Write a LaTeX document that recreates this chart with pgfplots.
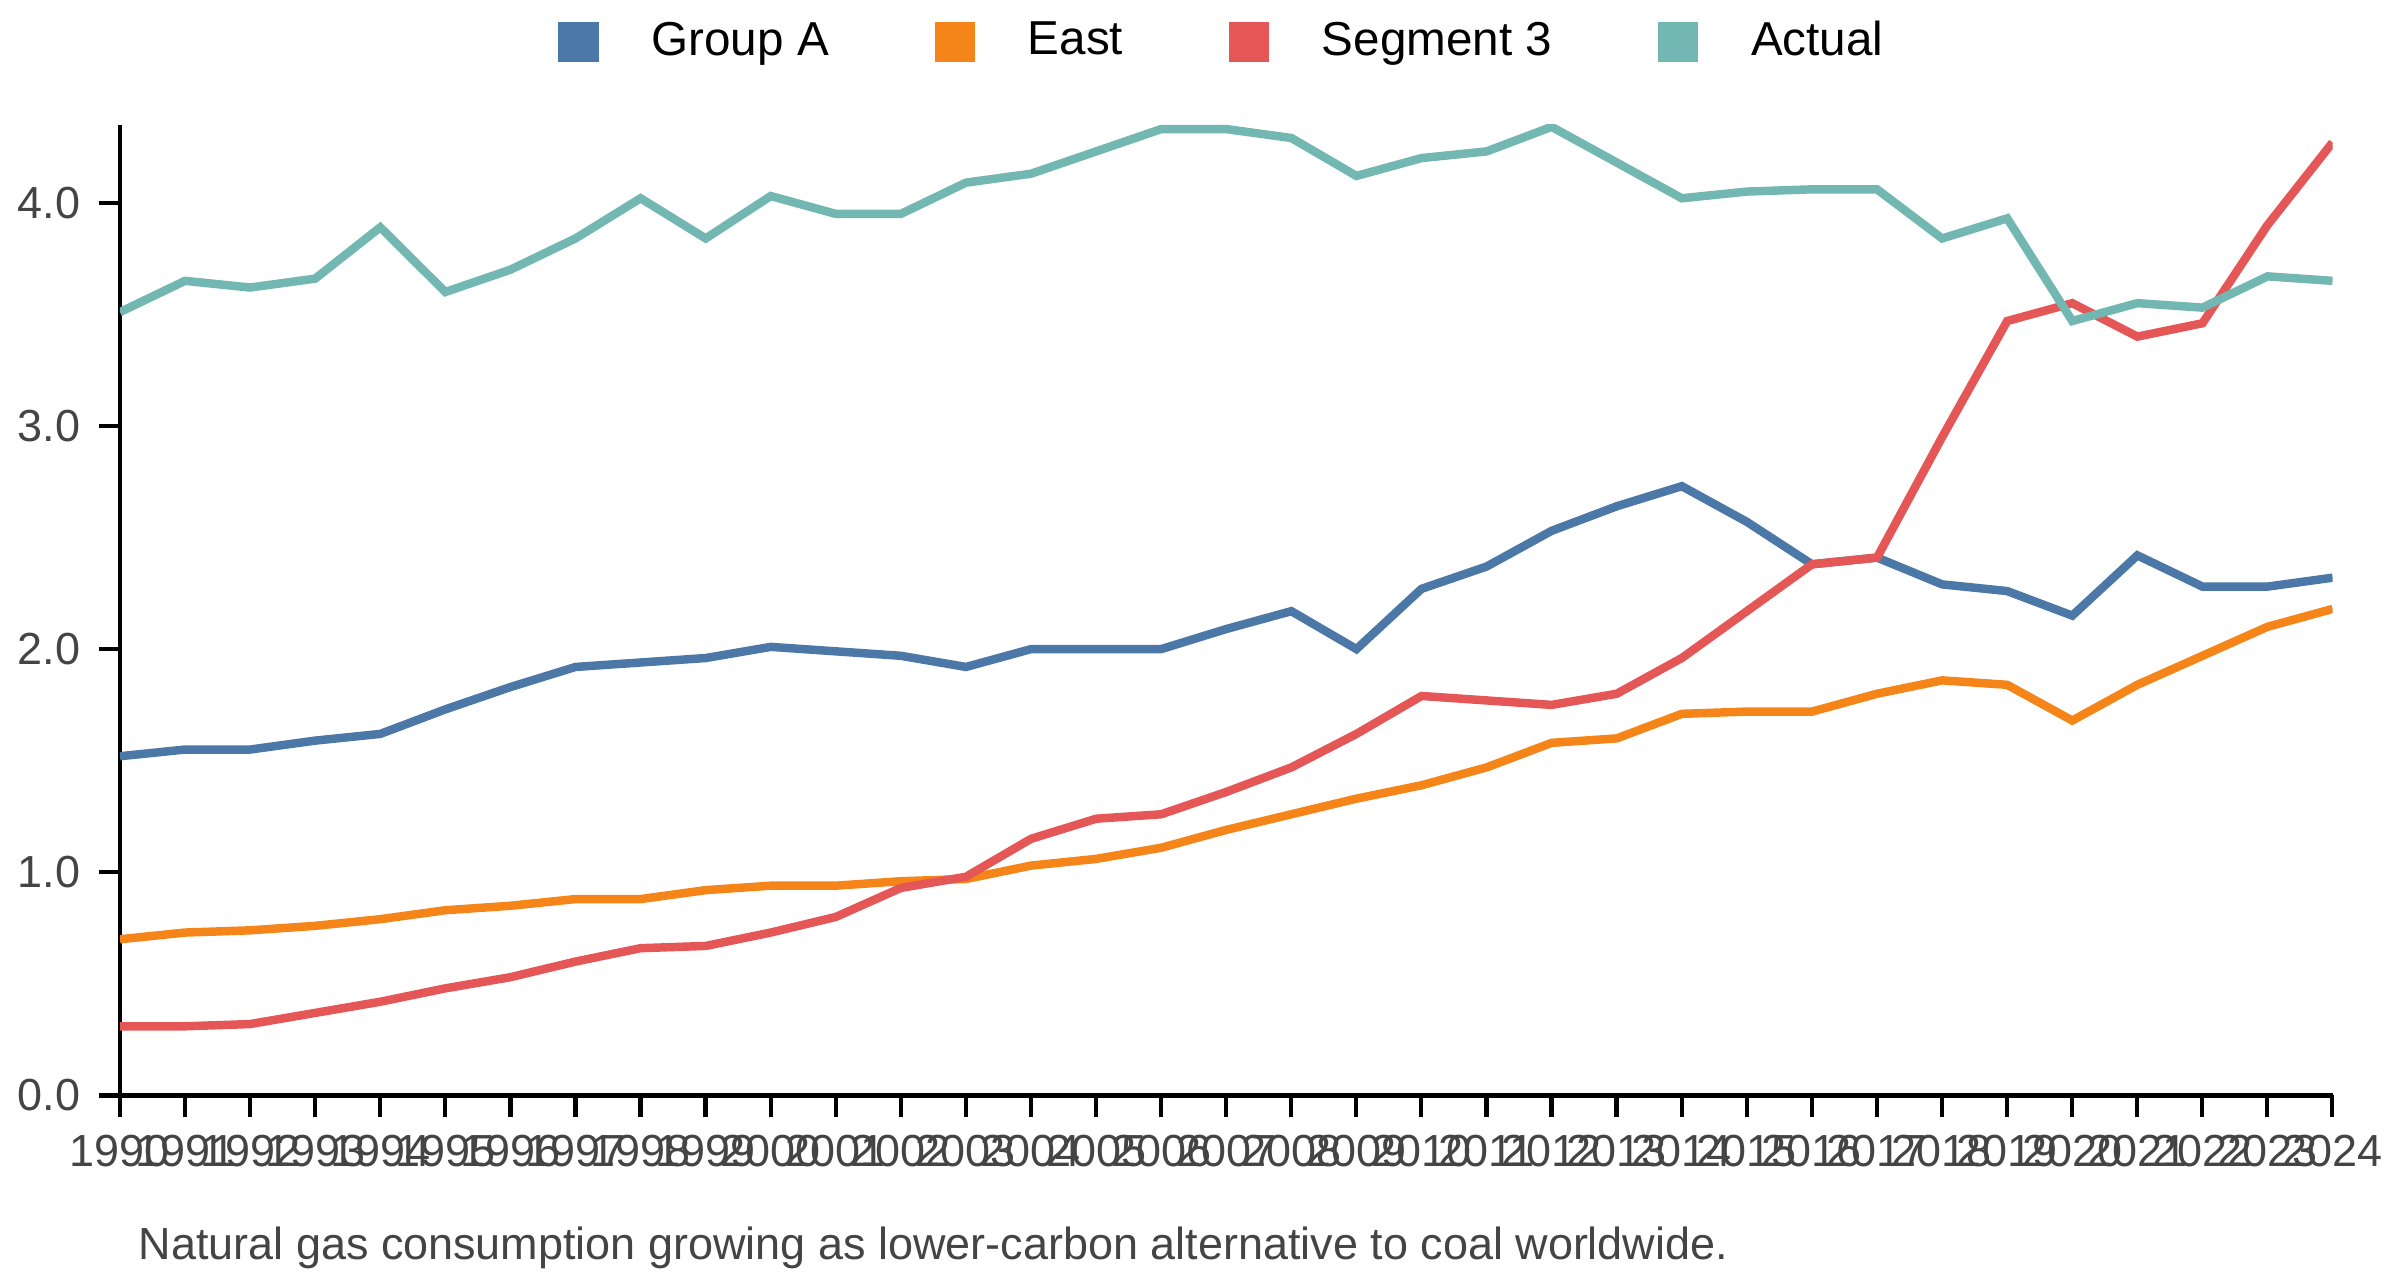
\documentclass[border=0pt]{standalone}
\usepackage{pgfplots}
\pgfplotsset{compat=1.18}
\usepackage{fontspec}
\setmainfont{Liberation Sans}
\definecolor{cA}{HTML}{4C78A8}
\definecolor{cB}{HTML}{F58518}
\definecolor{cC}{HTML}{E45756}
\definecolor{cD}{HTML}{72B7B2}
\definecolor{txt}{HTML}{444444}
\pgfplotstableread{
x a b c d
1990 1.52 0.70 0.31 3.51
1991 1.55 0.73 0.31 3.65
1992 1.55 0.74 0.32 3.62
1993 1.59 0.76 0.37 3.66
1994 1.62 0.79 0.42 3.89
1995 1.73 0.83 0.48 3.60
1996 1.83 0.85 0.53 3.70
1997 1.92 0.88 0.60 3.84
1998 1.94 0.88 0.66 4.02
1999 1.96 0.92 0.67 3.84
2000 2.01 0.94 0.73 4.03
2001 1.99 0.94 0.80 3.95
2002 1.97 0.96 0.93 3.95
2003 1.92 0.97 0.98 4.09
2004 2.00 1.03 1.15 4.13
2005 2.00 1.06 1.24 4.23
2006 2.00 1.11 1.26 4.33
2007 2.09 1.19 1.36 4.33
2008 2.17 1.26 1.47 4.29
2009 2.00 1.33 1.62 4.12
2010 2.27 1.39 1.79 4.20
2011 2.37 1.47 1.77 4.23
2012 2.53 1.58 1.75 4.34
2013 2.64 1.60 1.80 4.18
2014 2.73 1.71 1.96 4.02
2015 2.57 1.72 2.17 4.05
2016 2.38 1.72 2.38 4.06
2017 2.41 1.80 2.41 4.06
2018 2.29 1.86 2.95 3.84
2019 2.26 1.84 3.47 3.93
2020 2.15 1.68 3.55 3.47
2021 2.42 1.84 3.40 3.55
2022 2.28 1.97 3.46 3.53
2023 2.28 2.10 3.90 3.67
2024 2.32 2.18 4.27 3.65
}\data
\begin{document}
\begin{tikzpicture}
\begin{axis}[
  width=14.7cm, height=6.45cm, scale only axis,
  xmin=1990, xmax=2024, ymin=0, ymax=4.35,
  axis lines*=left, axis line style={line width=0.8pt, black},
  xtick={1990,...,2024}, ytick={0,1,2,3,4},
  xticklabels={1990,1991,1992,1993,1994,1995,1996,1997,1998,1999,2000,2001,2002,2003,2004,2005,2006,2007,2008,2009,2010,2011,2012,2013,2014,2015,2016,2017,2018,2019,2020,2021,2022,2023,2024},
  yticklabel style={/pgf/number format/.cd,fixed,fixed zerofill,precision=1},
  /pgf/number format/assume math mode=true,
  tick style={black, line width=0.8pt}, tick align=outside, major tick length=4pt,
  ticklabel style={font=\fontsize{8.5}{10}\selectfont, text=txt},
  legend style={at={(0.5,1.04)}, anchor=south, draw=none, legend columns=4,
    font=\fontsize{9}{11}\selectfont, text=black,
    /tikz/every odd column/.append style={column sep=8pt},
    /tikz/every even column/.append style={column sep=18pt}},
  legend image code/.code={\fill[#1] (0,-3pt) rectangle (6pt,3pt);},
  every axis plot/.append style={line width=1.6pt},
]
\addplot[cA] table[x=x,y=a]{\data}; \addlegendentry{Group A}
\addplot[cB] table[x=x,y=b]{\data}; \addlegendentry{East}
\addplot[cC] table[x=x,y=c]{\data}; \addlegendentry{Segment 3}
\addplot[cD] table[x=x,y=d]{\data}; \addlegendentry{Actual}
\end{axis}
\node[anchor=north west, text=txt, font=\fontsize{8.5}{10}\selectfont] at (0,-0.75cm) {Natural gas consumption growing as lower-carbon alternative to coal worldwide.};
\end{tikzpicture}
\end{document}
